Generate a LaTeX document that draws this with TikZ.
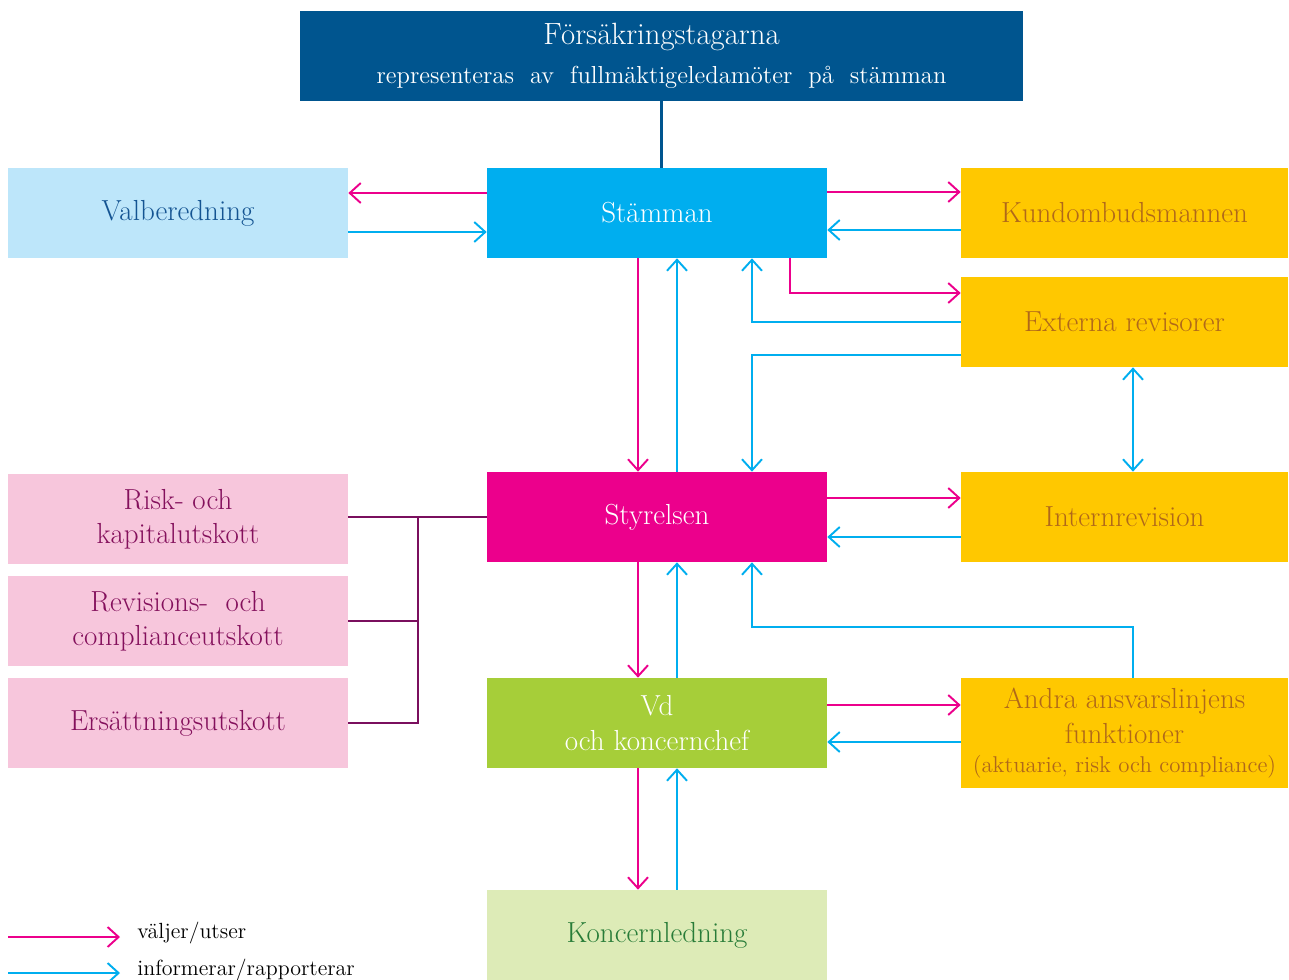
\documentclass[tikz,border=0pt]{standalone}
\usetikzlibrary{arrows.meta}

\definecolor{toppblaa}{RGB}{0,85,143}
\definecolor{stammacyan}{RGB}{0,174,239}
\definecolor{ljusblaa}{RGB}{189,230,250}
\definecolor{valtext}{RGB}{20,84,146}
\definecolor{styrmagenta}{RGB}{236,0,140}
\definecolor{rosa}{RGB}{247,198,220}
\definecolor{rosatext}{RGB}{132,16,92}
\definecolor{lila}{RGB}{122,15,94}
\definecolor{gul}{RGB}{255,200,0}
\definecolor{gultext}{RGB}{176,104,26}
\definecolor{vdgron}{RGB}{166,206,57}
\definecolor{ljusgron}{RGB}{221,235,183}
\definecolor{grontext}{RGB}{40,124,56}

\tikzset{
  ruta/.style={rectangle, inner sep=0pt, minimum width=6.8cm, minimum height=1.8cm,
    align=center, font=\fontsize{16.5}{19.5}\selectfont},
  gulruta/.style={ruta, fill=gul, text=gultext, minimum width=6.54cm},
  rosaruta/.style={ruta, fill=rosa, text=rosatext},
  valj/.style={draw=styrmagenta, line width=1.1pt, -{Straight Barb[length=2.2mm,width=4mm]}},
  info/.style={draw=stammacyan, line width=1.1pt, -{Straight Barb[length=2.2mm,width=4mm]}},
  kommlinje/.style={draw=lila, line width=1.3pt},
}

\begin{document}
\begin{tikzpicture}[x=0.02cm, y=-0.02cm]
  \useasboundingbox (0,0) rectangle (1289,980);

  % boxes
  \node[ruta, fill=toppblaa, text=white, minimum width=14.46cm] (topp) at (661.5,56)
    {{\fontsize{17.5}{20}\selectfont Försäkringstagarna}\\[3pt]
     {\fontsize{14}{16}\selectfont representeras\ \ av\ \ fullmäktigeledamöter\ \ på\ \ stämman}};
  \node[ruta, fill=ljusblaa, text=valtext] (valb) at (178,213) {Valberedning};
  \node[ruta, fill=stammacyan, text=white] (stamma) at (657,213) {Stämman};
  \node[gulruta] (kund) at (1124.5,213) {Kundombudsmannen};
  \node[gulruta] (extrev) at (1124.5,322) {Externa revisorer};
  \node[ruta, fill=styrmagenta, text=white] (styr) at (657,517) {Styrelsen};
  \node[gulruta] (intrev) at (1124.5,517) {Internrevision};
  \node[rosaruta] (risk) at (178,519) {Risk- och\\kapitalutskott};
  \node[rosaruta] (revis) at (178,621) {Revisions-\ \ och\\complianceutskott};
  \node[rosaruta] (ers) at (178,723) {Ersättningsutskott};
  \node[ruta, fill=vdgron, text=white] (vd) at (657,723) {Vd\\och koncernchef};
  \node[gulruta, minimum height=2.2cm] (andra) at (1124.5,733)
    {Andra ansvarslinjens\\funktioner\\[-3pt]
     {\fontsize{13}{15}\selectfont (aktuarie,\ risk\ och\ compliance)}};
  \node[ruta, fill=ljusgron, text=grontext] (koncern) at (657,935) {Koncernledning};

  % connectors
  \draw[draw=toppblaa, line width=1.4pt] (topp.south) -- (topp.south |- stamma.north);

  \draw[valj] ([yshift=0.4cm]stamma.west) -- ([yshift=0.4cm]stamma.west -| valb.east);
  \draw[info] ([yshift=-0.38cm]valb.east) -- ([yshift=-0.38cm]valb.east -| stamma.west);
  \draw[valj] ([yshift=0.42cm]stamma.east) -- ([yshift=0.42cm]stamma.east -| kund.west);
  \draw[info] ([yshift=-0.34cm]kund.west) -- ([yshift=-0.34cm]kund.west -| stamma.east);

  \draw[valj] ([xshift=2.66cm]stamma.south) |- ([yshift=0.58cm]extrev.west);
  \draw[info] (extrev.west) -| ([xshift=1.9cm]stamma.south);
  \draw[info] ([yshift=-0.66cm]extrev.west) -| ([xshift=1.9cm]styr.north);
  \draw[info, {Straight Barb[length=2.2mm,width=4mm]}-{Straight Barb[length=2.2mm,width=4mm]}]
    ([xshift=0.17cm]extrev.south) -- ([xshift=0.17cm]intrev.north);

  \draw[valj] ([xshift=-0.38cm]stamma.south) -- ([xshift=-0.38cm]styr.north);
  \draw[info] ([xshift=0.4cm]styr.north) -- ([xshift=0.4cm]stamma.south);

  \draw[valj] ([yshift=0.38cm]styr.east) -- ([yshift=0.38cm]styr.east -| intrev.west);
  \draw[info] ([yshift=-0.4cm]intrev.west) -- ([yshift=-0.4cm]intrev.west -| styr.east);

  \draw[valj] ([xshift=-0.38cm]styr.south) -- ([xshift=-0.38cm]vd.north);
  \draw[info] ([xshift=0.4cm]vd.north) -- ([xshift=0.4cm]styr.south);
  \draw[info] ([xshift=0.17cm]andra.north) -- ++(0,1.02cm) -| ([xshift=1.9cm]styr.south);

  \draw[valj] ([yshift=0.36cm]vd.east) -- ([yshift=0.36cm]vd.east -| andra.west);
  \draw[info] ([yshift=-0.38cm]vd.east -| andra.west) -- ([yshift=-0.38cm]vd.east);

  \draw[valj] ([xshift=-0.38cm]vd.south) -- ([xshift=-0.38cm]koncern.north);
  \draw[info] ([xshift=0.4cm]koncern.north) -- ([xshift=0.4cm]vd.south);

  % utskott
  \coordinate (knut) at (418,517);
  \draw[kommlinje] (styr.west) -- (styr.west -| risk.east);
  \draw[kommlinje] (knut) |- (ers.east);
  \draw[kommlinje] (knut |- revis.east) -- (revis.east);

  % legend
  \coordinate (lv1) at (8,937);
  \coordinate (lv2) at (120,937);
  \coordinate (li1) at (8,973);
  \coordinate (li2) at (120,973);
  \draw[valj] (lv1) -- (lv2);
  \draw[info] (li1) -- (li2);
  \node[anchor=base west, inner sep=0pt, font=\fontsize{12.5}{14}\selectfont] (tv) at (137,938) {väljer/utser};
  \node[anchor=base west, inner sep=0pt, font=\fontsize{12.5}{14}\selectfont] (ti) at (137,975) {informerar/rapporterar};
\end{tikzpicture}
\end{document}
